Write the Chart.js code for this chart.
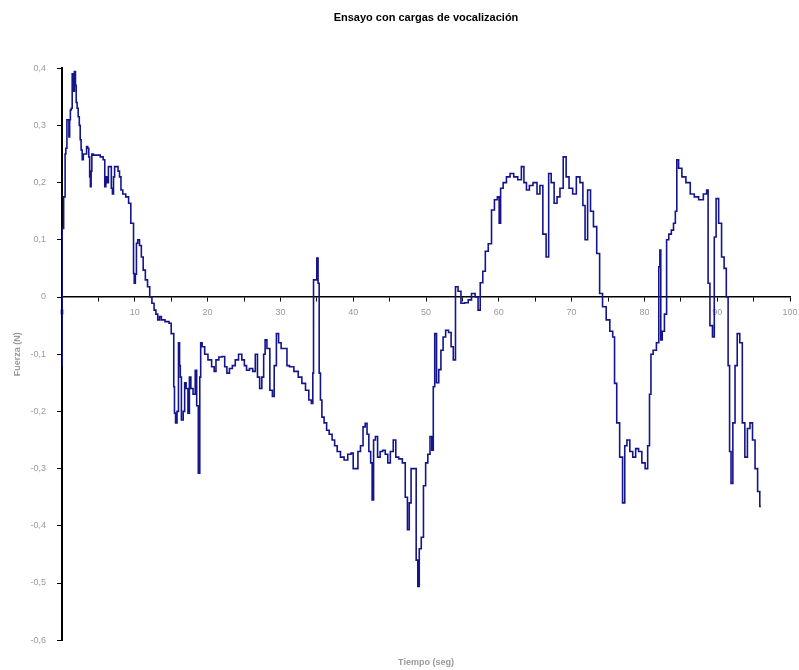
<!DOCTYPE html>
<html>
<head>
<meta charset="utf-8">
<script src="https://cdn.jsdelivr.net/npm/chart.js@4"></script>
<style>
  body { margin: 0; background: #fff; }
  #grafico { display: block; }
</style>
</head>
<body>
<canvas id="grafico" width="799" height="670"></canvas>
<script>
const titulo = 'Ensayo con cargas de vocalización';
const tituloX = 'Tiempo (seg)';
const tituloY = 'Fuerza (N)';

// tiempo (seg) y fuerza (N)
const tiempo = [
  0, 0.05, 0.2, 0.25, 0.4, 0.45, 0.6, 0.75, 0.9, 1.0, 1.1, 1.2, 1.35, 1.45, 1.6, 1.8, 1.9, 2.0, 2.15, 2.3,
  2.45, 2.55, 2.7, 2.85, 3.0, 3.3, 3.45, 3.6, 3.75, 3.85, 3.95, 4.05, 4.15, 4.5, 5.0, 5.5, 5.8, 5.95, 6.1, 6.3,
  6.45, 6.7, 6.85, 7.0, 7.15, 7.3, 7.6, 7.8, 8.0, 8.2, 8.5, 9.0, 9.3, 9.6, 9.8, 9.85, 10.0, 10.15, 10.3, 10.5,
  10.8, 11.0, 11.3, 11.6, 11.9, 12.2, 12.5, 12.8, 13.0, 13.3, 13.5, 13.8, 14.5, 14.9, 15.1, 15.3, 15.4, 15.5, 15.7, 15.9,
  16.1, 16.2, 16.3, 16.5, 16.8, 16.9, 17.2, 17.4, 17.6, 17.8, 18.2, 18.4, 18.6, 18.85, 19.0, 19.1, 19.4, 19.8, 20.3, 20.8,
  21.0, 21.3, 21.8, 22.2, 22.5, 22.8, 23.2, 23.6, 24.0, 24.5, 24.9, 25.2, 25.5, 26.0, 26.4, 26.7, 27.0, 27.3, 27.6, 27.8,
  28.0, 28.3, 28.8, 29.0, 29.3, 29.6, 29.9, 30.3, 30.8, 31.0, 31.5, 32.2, 32.7, 33.2, 33.7, 34.1, 34.4, 34.5, 34.6, 34.9,
  35.1, 35.25, 35.4, 35.6, 35.8, 36.2, 36.5, 36.9, 37.3, 37.6, 38.0, 38.5, 39.0, 39.5, 39.9, 40.1, 40.5, 40.8, 41.2, 41.5,
  41.8, 42.0, 42.3, 42.5, 42.7, 42.9, 43.2, 43.5, 43.9, 44.2, 44.6, 44.9, 45.3, 45.7, 46.0, 46.5, 47.0, 47.3, 47.6, 47.8,
  48.1, 48.5, 48.8, 48.95, 49.2, 49.5, 49.8, 50.1, 50.4, 50.7, 50.9, 51.1, 51.3, 51.6, 51.9, 52.2, 52.5, 52.9, 53.3, 53.6,
  53.9, 54.2, 54.6, 55.0, 55.6, 56.0, 56.5, 57.0, 57.3, 57.6, 58.0, 58.3, 58.8, 59.2, 59.6, 60.0, 60.1, 60.4, 60.8, 61.3,
  61.8, 62.3, 62.9, 63.3, 63.6, 64.0, 64.4, 65.0, 65.5, 65.8, 66.3, 66.7, 67.0, 67.4, 67.8, 68.2, 68.6, 69.1, 69.4, 69.9,
  70.4, 70.9, 71.4, 71.7, 72.0, 72.4, 72.8, 73.2, 73.7, 74.0, 74.5, 75.0, 75.5, 75.8, 76.0, 76.4, 76.8, 77.2, 77.4, 77.8,
  78.2, 78.6, 79.0, 79.4, 79.9, 80.3, 80.6, 80.8, 81.0, 81.4, 81.9, 82.05, 82.2, 82.3, 82.6, 82.9, 83.2, 83.5, 83.9, 84.1,
  84.4, 84.5, 84.9, 85.4, 86.0, 86.6, 87.1, 87.8, 88.4, 88.7, 88.8, 89.2, 89.5, 89.7, 90.0, 90.4, 90.8, 91.1, 91.4, 91.6,
  91.8, 92.0, 92.3, 92.6, 92.9, 93.3, 93.6, 94.0, 94.3, 94.7, 95.0, 95.4, 95.7, 96.0
];
const fuerza = [
  -0.12, 0.12, 0.12, 0.175, 0.175, 0.25, 0.26, 0.31, 0.31, 0.28, 0.31, 0.327, 0.33, 0.39, 0.36, 0.394, 0.37, 0.34, 0.33, 0.315,
  0.30, 0.275, 0.257, 0.24, 0.25, 0.25, 0.263, 0.26, 0.245, 0.21, 0.193, 0.22, 0.25, 0.248, 0.248, 0.245, 0.24, 0.193, 0.21, 0.20,
  0.228, 0.228, 0.19, 0.18, 0.21, 0.228, 0.228, 0.22, 0.21, 0.187, 0.18, 0.175, 0.164, 0.129, 0.129, 0.041, 0.024, 0.04, 0.094, 0.1,
  0.09, 0.07, 0.047, 0.03, 0.018, 0, -0.011, -0.023, -0.03, -0.04, -0.034, -0.04, -0.043, -0.046, -0.064, -0.064, -0.157, -0.203, -0.22, -0.2,
  -0.08, -0.12, -0.14, -0.215, -0.2, -0.15, -0.16, -0.203, -0.14, -0.16, -0.17, -0.128, -0.19, -0.308, -0.14, -0.08, -0.087, -0.1, -0.11, -0.122,
  -0.13, -0.11, -0.105, -0.104, -0.122, -0.133, -0.125, -0.12, -0.11, -0.1, -0.11, -0.12, -0.128, -0.125, -0.13, -0.1, -0.14, -0.16, -0.14, -0.1,
  -0.075, -0.09, -0.163, -0.174, -0.12, -0.064, -0.08, -0.09, -0.09, -0.12, -0.122, -0.13, -0.14, -0.151, -0.163, -0.18, -0.186, -0.133, 0.03, 0.03,
  0.068, 0.024, -0.133, -0.18, -0.21, -0.22, -0.233, -0.24, -0.25, -0.26, -0.27, -0.28, -0.285, -0.275, -0.273, -0.3, -0.3, -0.27, -0.26, -0.227,
  -0.221, -0.24, -0.27, -0.29, -0.355, -0.25, -0.244, -0.28, -0.27, -0.268, -0.275, -0.29, -0.27, -0.25, -0.28, -0.283, -0.29, -0.35, -0.407, -0.36,
  -0.3, -0.3, -0.46, -0.506, -0.44, -0.42, -0.33, -0.29, -0.275, -0.244, -0.268, -0.157, -0.064, -0.15, -0.127, -0.093, -0.07, -0.058, -0.062, -0.087,
  -0.11, 0.018, 0.01, -0.011, -0.01, -0.005, 0.006, 0.0, -0.023, 0.025, 0.045, 0.08, 0.093, 0.152, 0.17, 0.175, 0.129, 0.19, 0.2, 0.21,
  0.216, 0.21, 0.205, 0.228, 0.2, 0.187, 0.195, 0.2, 0.18, 0.195, 0.11, 0.07, 0.216, 0.2, 0.164, 0.175, 0.19, 0.245, 0.21, 0.19,
  0.18, 0.21, 0.2, 0.16, 0.1, 0.187, 0.15, 0.123, 0.076, 0.006, -0.017, -0.04, -0.06, -0.07, -0.151, -0.22, -0.28, -0.36, -0.26, -0.25,
  -0.27, -0.28, -0.265, -0.27, -0.29, -0.3, -0.26, -0.17, -0.1, -0.093, -0.08, 0.053, 0.082, -0.075, -0.06, -0.03, 0.1, 0.11, 0.117, 0.129,
  0.15, 0.24, 0.225, 0.21, 0.2, 0.18, 0.175, 0.17, 0.18, 0.187, 0.024, -0.05, -0.07, 0.105, 0.172, 0.129, 0.07, 0.05, 0.0, -0.12,
  -0.27, -0.326, -0.22, -0.12, -0.064, -0.08, -0.22, -0.28, -0.23, -0.22, -0.25, -0.3, -0.34, -0.366
];

const puntos = tiempo.map((t, i) => ({ x: t, y: fuerza[i] }));
const gris = '#9a9a9a';
const fuente = 'Liberation Sans, Arial, sans-serif';

new Chart(document.getElementById('grafico'), {
  type: 'line',
  data: {
    datasets: [{
      label: tituloY,
      data: puntos,
      borderColor: '#14148c',
      borderWidth: 1.6,
      pointRadius: 0,
      stepped: 'middle',
      fill: false
    }]
  },
  options: {
    responsive: false,
    animation: false,
    layout: { padding: { left: 0, right: 9, top: 0, bottom: 0 } },
    plugins: {
      legend: { display: false },
      tooltip: { enabled: false },
      title: {
        display: true,
        text: titulo,
        fullSize: false,
        color: '#000',
        font: { family: fuente, size: 11, weight: 'bold' },
        padding: { top: 11, bottom: 44 }
      },
      subtitle: {
        display: true,
        text: tituloX,
        position: 'bottom',
        fullSize: false,
        color: gris,
        font: { family: fuente, size: 9, weight: 'bold' },
        padding: { top: 17, bottom: 2 }
      }
    },
    scales: {
      x: {
        type: 'linear',
        position: { y: 0 },
        min: 0,
        max: 100,
        afterFit: s => { s.paddingRight = 0; s.paddingLeft = 0; },
        ticks: {
          stepSize: 5,
          autoSkip: false,
          maxRotation: 0,
          color: gris,
          padding: 6,
          font: { family: fuente, size: 9 },
          callback: v => (v % 10 === 0 ? String(v) : '')
        },
        grid: { drawOnChartArea: false, tickLength: 4, tickColor: '#000' },
        border: { color: '#000', width: 1.5 }
      },
      y: {
        position: 'left',
        min: -0.6,
        max: 0.4,
        afterFit: s => { s.width = 62; },
        ticks: {
          stepSize: 0.1,
          color: gris,
          padding: 11,
          font: { family: fuente, size: 9 },
          callback: v => (Math.abs(v) < 1e-9 ? '0' : v.toFixed(1).replace('.', ','))
        },
        title: {
          display: true,
          text: tituloY,
          color: gris,
          font: { family: fuente, size: 9, weight: 'bold' },
          padding: { top: 12, bottom: 0 }
        },
        grid: { drawOnChartArea: false, tickLength: 5, tickColor: '#000' },
        border: { color: '#000', width: 2 }
      }
    }
  }
});
</script>
</body>
</html>
